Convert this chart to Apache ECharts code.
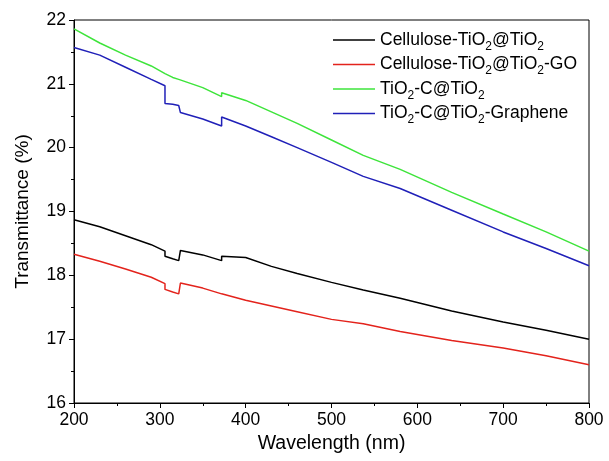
<!DOCTYPE html>
<html>
<head>
    <meta charset="utf-8">
    <title>Transmittance</title>
    <script src="https://cdn.jsdelivr.net/npm/echarts@6/dist/echarts.min.js"></script>
</head>
<body style="margin:0">
    <div id="main" style="width:609px;height:461px"></div>
    <script type="text/javascript">
        // wavelength (nm); repeated points make the instrument steps
        var wavelength = [200, 230, 260, 290, 306, 306, 315, 322, 324, 324, 350, 372, 372, 400, 430, 460, 500, 537, 537, 580, 640, 700, 750, 800];
        var cellulose = [18.87, 18.76, 18.62, 18.48, 18.38, 18.30, 18.26, 18.23, 18.23, 18.39, 18.32, 18.23, 18.30, 18.28, 18.14, 18.03, 17.89, 17.77, 17.79, 17.64, 17.44, 17.27, 17.14, 17.00];
        var celluloseGO = [18.33, 18.22, 18.10, 17.97, 17.87, 17.78, 17.74, 17.71, 17.71, 17.88, 17.80, 17.71, 17.74, 17.61, 17.52, 17.43, 17.31, 17.24, 17.25, 17.12, 16.98, 16.86, 16.74, 16.60];
        var tioC = [21.86, 21.64, 21.45, 21.28, 21.16, 21.16, 21.10, 21.07, 21.06, 21.06, 20.94, 20.80, 20.86, 20.74, 20.56, 20.38, 20.12, 19.88, 19.90, 19.66, 19.30, 18.96, 18.68, 18.38];
        var tioCGraphene = [21.57, 21.45, 21.26, 21.07, 20.97, 20.69, 20.68, 20.66, 20.66, 20.55, 20.45, 20.34, 20.48, 20.34, 20.17, 20.00, 19.77, 19.55, 19.58, 19.36, 19.02, 18.68, 18.42, 18.15];

        var names = ['Cellulose-TiO2@TiO2', 'Cellulose-TiO2@TiO2-GO', 'TiO2-C@TiO2', 'TiO2-C@TiO2-Graphene'];
        var colors = ['#000000', '#e3231c', '#3ee43b', '#2020b8'];

        function pairs(values) {
            return values.map(function(v, i) {
                return [wavelength[i], v];
            });
        }

        var chart = echarts.init(document.getElementById('main'));
        var font = 'Liberation Sans, Arial, sans-serif';
        var option = {
            animation: false,
            color: colors,
            grid: {
                left: 74,
                right: 20,
                top: 20,
                bottom: 58,
                show: true,
                borderColor: '#000',
                borderWidth: 1
            },
            legend: {
                orient: 'vertical',
                left: 328,
                top: 26,
                icon: 'rect',
                itemWidth: 42,
                itemHeight: 1.5,
                itemGap: 3,
                data: names,
                formatter: function(name) {
                    // TiO2 -> TiO + subscript 2
                    return name.split('2').map(function(part, i) {
                        return (i > 0 ? '{s|2}' : '') + (part ? '{a|' + part + '}' : '');
                    }).join('');
                },
                textStyle: {
                    fontFamily: font,
                    color: '#000',
                    rich: {
                        a: { fontSize: 17.5, lineHeight: 25, fontFamily: font, color: '#000' },
                        s: { fontSize: 12, lineHeight: 11, verticalAlign: 'bottom', fontFamily: font, color: '#000' }
                    }
                }
            },
            xAxis: {
                type: 'value',
                min: 200,
                max: 800,
                interval: 100,
                name: 'Wavelength (nm)',
                nameLocation: 'middle',
                nameGap: 29,
                nameTextStyle: { fontSize: 19.5, fontFamily: font, color: '#000' },
                axisLine: { lineStyle: { color: '#000' } },
                axisTick: { length: 5, lineStyle: { color: '#000' } },
                minorTick: { show: true, splitNumber: 2, length: 3, lineStyle: { color: '#000' } },
                splitLine: { show: false },
                axisLabel: { fontSize: 17.5, fontFamily: font, color: '#000', margin: 8 }
            },
            yAxis: {
                type: 'value',
                min: 16,
                max: 22,
                interval: 1,
                name: 'Transmittance (%)',
                nameLocation: 'middle',
                nameGap: 42,
                nameTextStyle: { fontSize: 19, fontFamily: font, color: '#000' },
                axisLine: { show: true, lineStyle: { color: '#000' } },
                axisTick: { show: true, length: 5, lineStyle: { color: '#000' } },
                minorTick: { show: true, splitNumber: 2, length: 3, lineStyle: { color: '#000' } },
                splitLine: { show: false },
                axisLabel: { fontSize: 17.5, fontFamily: font, color: '#000', margin: 8 }
            },
            series: [
                { name: names[0], type: 'line', symbol: 'none', lineStyle: { width: 1.5 }, data: pairs(cellulose) },
                { name: names[1], type: 'line', symbol: 'none', lineStyle: { width: 1.5 }, data: pairs(celluloseGO) },
                { name: names[2], type: 'line', symbol: 'none', lineStyle: { width: 1.5 }, data: pairs(tioC) },
                { name: names[3], type: 'line', symbol: 'none', lineStyle: { width: 1.5 }, data: pairs(tioCGraphene) }
            ]
        };
        chart.setOption(option);
    </script>
</body>
</html>
